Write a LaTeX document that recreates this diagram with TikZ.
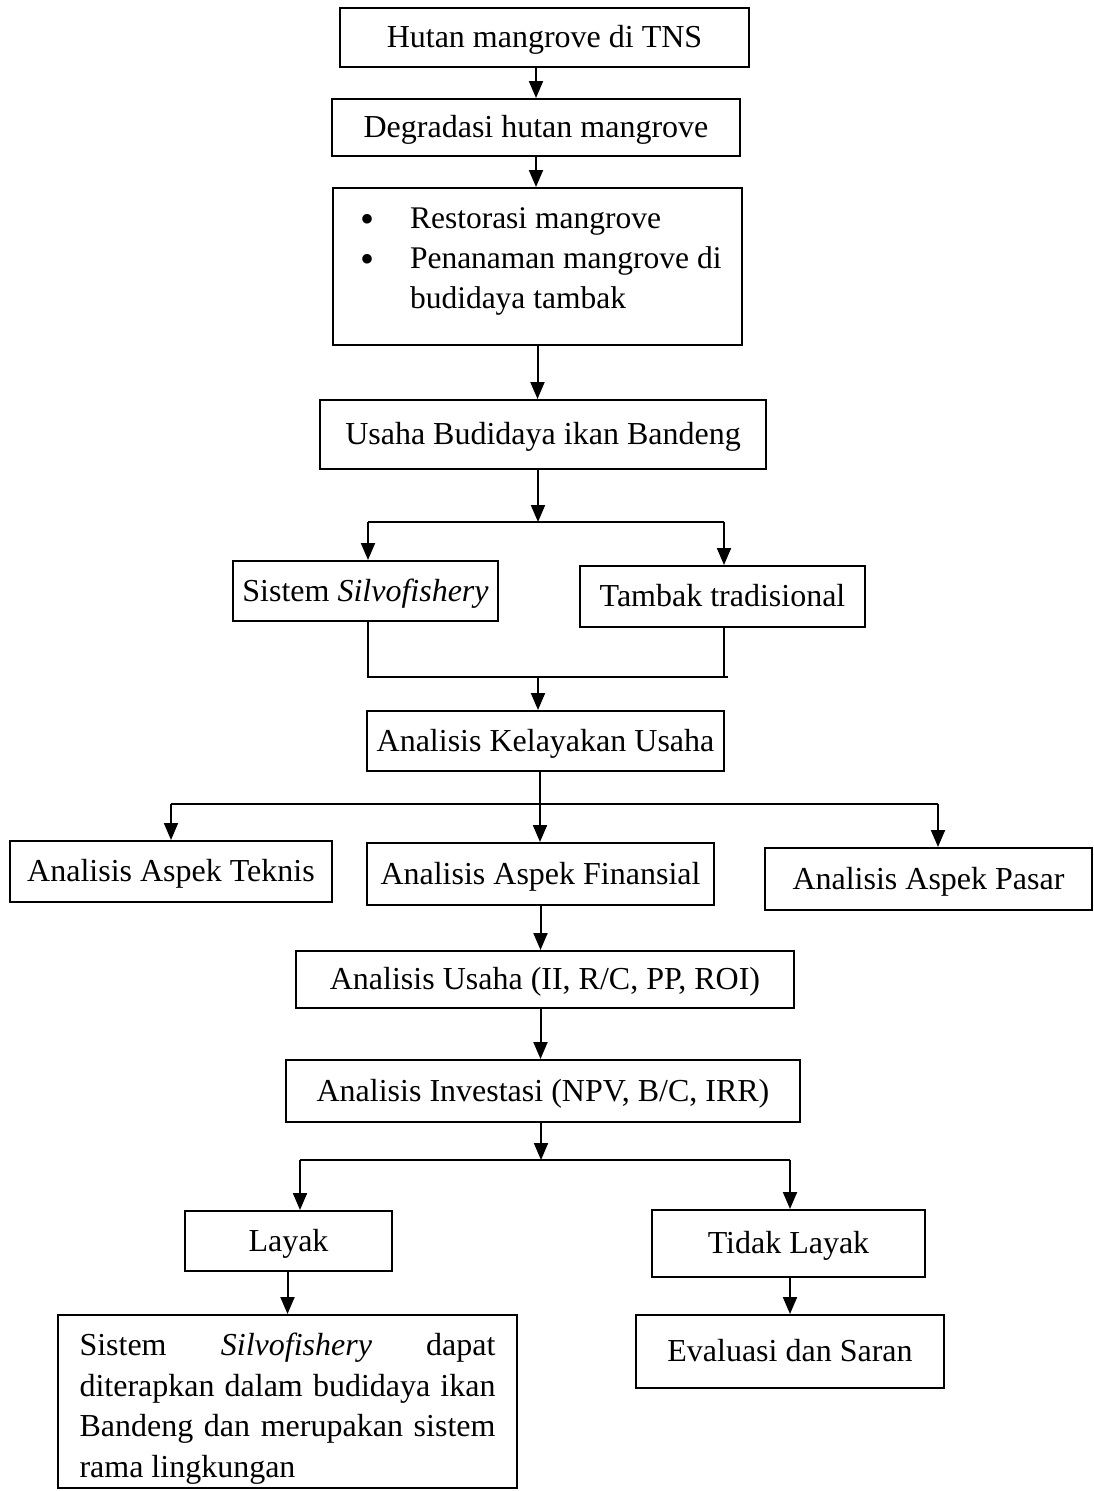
\documentclass[tikz,border=0pt]{standalone}
\usepackage{fontspec}
\setmainfont{Liberation Serif}
\usetikzlibrary{arrows.meta}

\tikzset{
  kotak/.style={draw, line width=2pt, inner sep=0pt, font=\fontsize{32}{38}\selectfont},
  satu/.style={kotak, text height=23pt, text depth=3pt},
  panah/.style={line width=2pt, -{Triangle[length=17pt,width=14pt]}},
  garis/.style={line width=2pt}
}

\begin{document}
\begin{tikzpicture}[x=1pt, y=-1pt]
  \useasboundingbox (0,0) rectangle (1094,1491);
  % alur atas
  \node[satu, minimum width=409pt, minimum height=59pt] (hutan) at (544.5,37.5) {Hutan mangrove di TNS};
  \node[satu, minimum width=408pt, minimum height=57pt] (degradasi) at (536,127.5) {Degradasi hutan mangrove};
  \node[kotak, minimum width=409pt, minimum height=157pt] (restorasi) at (537.5,266.5) {\parbox{368pt}{\fontsize{31.5}{40}\selectfont\tolerance=9999
      \hangindent=56.5pt\hangafter=1\makebox[56.5pt][l]{\hspace{7pt}\raisebox{-4pt}{\fontsize{40}{40}\selectfont\textbullet}}Restorasi mangrove\par
      \hangindent=56.5pt\hangafter=1\makebox[56.5pt][l]{\hspace{7pt}\raisebox{-4pt}{\fontsize{40}{40}\selectfont\textbullet}}Penanaman~mangrove~di budidaya tambak\par
      \vspace{10pt}}};
  \node[satu, minimum width=446pt, minimum height=69pt] (usaha) at (543,434.5) {Usaha Budidaya ikan Bandeng};
  % dua sistem
  \node[satu, minimum width=265pt, minimum height=60pt] (silvo) at (365.5,591) {Sistem \textit{Silvofishery}};
  \node[satu, minimum width=285pt, minimum height=61pt] (tambak) at (722.5,596.5) {Tambak tradisional};
  \node[satu, minimum width=357pt, minimum height=60pt] (kelayakan) at (545.5,741) {Analisis Kelayakan Usaha};
  % aspek
  \node[satu, minimum width=322pt, minimum height=61pt] (teknis) at (171,871.5) {Analisis Aspek Teknis};
  \node[satu, minimum width=347pt, minimum height=62pt] (finansial) at (540.5,874) {Analisis Aspek Finansial};
  \node[satu, minimum width=327pt, minimum height=62pt] (pasar) at (928.5,879) {Analisis Aspek Pasar};
  \node[satu, minimum width=498pt, minimum height=57pt] (analusaha) at (545,979.5) {Analisis Usaha (II, R/C, PP, ROI)};
  \node[satu, minimum width=514pt, minimum height=62pt] (investasi) at (543,1091) {Analisis Investasi (NPV, B/C, IRR)};
  % hasil
  \node[satu, minimum width=207pt, minimum height=60pt] (layak) at (288.5,1241) {Layak};
  \node[satu, minimum width=273pt, minimum height=67pt] (tidak) at (788.5,1243.5) {Tidak Layak};
  \node[kotak, minimum width=459pt, minimum height=173pt] (kesimpulan) at (287.5,1401.5) {\parbox{416pt}{\fontsize{32}{40.6}\selectfont\tolerance=9999\hyphenpenalty=10000
      \vspace{14pt}Sistem \textit{Silvofishery} dapat\linebreak diterapkan dalam budidaya ikan\linebreak Bandeng dan merupakan sistem\linebreak rama lingkungan}};
  \node[satu, minimum width=308pt, minimum height=73pt] (evaluasi) at (790,1351.5) {Evaluasi dan Saran};

  % titik cabang
  \coordinate (c1) at (538,522);
  \coordinate (c1l) at (368,522);
  \coordinate (c1r) at (724,522);
  \coordinate (c2) at (538,677);
  \coordinate (c2l) at (368,677);
  \coordinate (c2r) at (728,677);
  \coordinate (c3) at (540,804);
  \coordinate (c3l) at (171,804);
  \coordinate (c3r) at (938,804);
  \coordinate (c4) at (541,1160);
  \coordinate (c4l) at (300,1160);
  \coordinate (c4r) at (790,1160);

  % panah
  \draw[panah] (hutan.south -| degradasi.north) -- (degradasi.north);
  \draw[panah] (degradasi.south) -- (degradasi.south |- restorasi.north);
  \draw[panah] (restorasi.south) -- (restorasi.south |- usaha.north);
  \draw[panah] (usaha.south -| c1) -- (c1);
  \draw[garis] (c1l) -- (c1r);
  \draw[panah] (c1l) -- (c1l |- silvo.north);
  \draw[panah] (c1r) -- (c1r |- tambak.north);
  \draw[garis] (silvo.south -| c2l) -- (c2l) -- (c2r);
  \draw[garis] (tambak.south -| c1r) -- (c1r |- c2);
  \draw[panah] (c2) -- (c2 |- kelayakan.north);
  \draw[garis] (kelayakan.south -| c3) -- (c3);
  \draw[garis] (c3l) -- (c3r);
  \draw[panah] (c3l) -- (c3l |- teknis.north);
  \draw[panah] (c3) -- (c3 |- finansial.north);
  \draw[panah] (c3r) -- (c3r |- pasar.north);
  \draw[panah] (finansial.south) -- (finansial.south |- analusaha.north);
  \draw[panah] (analusaha.south -| finansial.south) -- (finansial.south |- investasi.north);
  \draw[panah] (investasi.south -| c4) -- (c4);
  \draw[garis] (c4l) -- (c4r);
  \draw[panah] (c4l) -- (c4l |- layak.north);
  \draw[panah] (c4r) -- (c4r |- tidak.north);
  \draw[panah] (layak.south -| kesimpulan.north) -- (kesimpulan.north);
  \draw[panah] (tidak.south -| evaluasi.north) -- (evaluasi.north);
\end{tikzpicture}
\end{document}
